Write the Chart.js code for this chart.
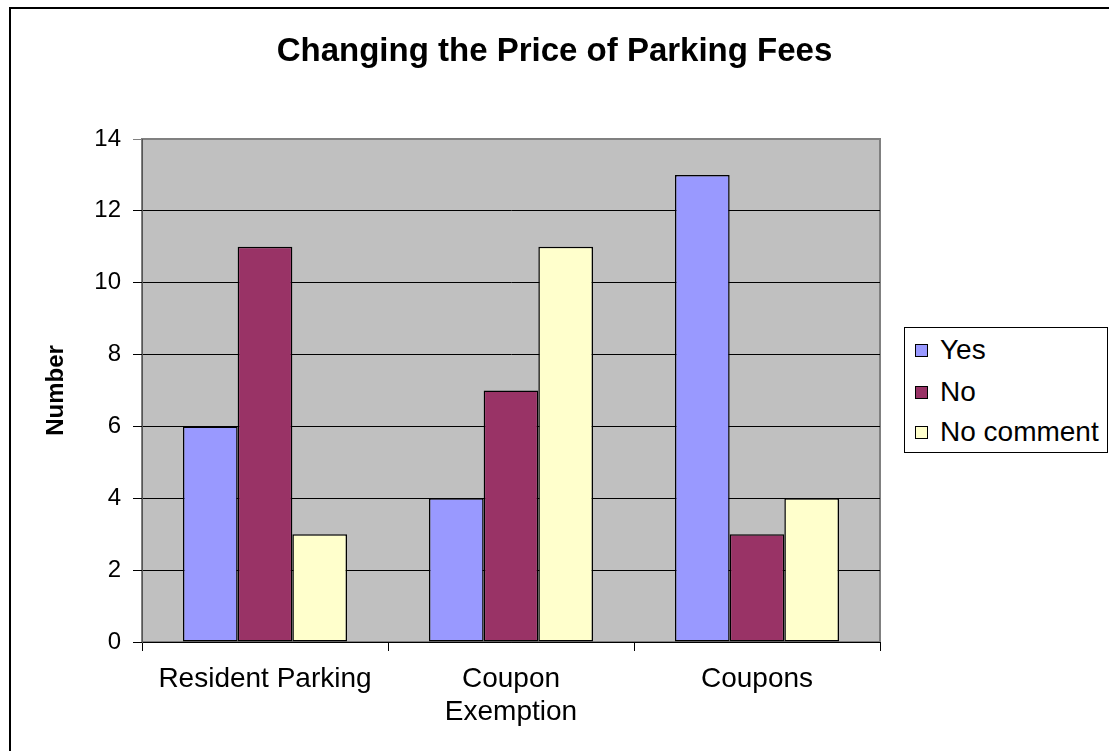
<!DOCTYPE html>
<html lang="en">
<head>
    <meta charset="UTF-8">
    <title>Changing the Price of Parking Fees</title>
    <script src="https://cdn.jsdelivr.net/npm/chart.js"></script>
    <style>
        body {
            margin: 0;
            overflow: hidden;
            background: #fff;
            font-family: 'Liberation Sans', Arial, sans-serif;
        }
        #wrap {
            position: relative;
            width: 1109px;
            height: 751px;
            overflow: hidden;
        }
        #frame {
            position: absolute;
            left: 9px;
            top: 7px;
            width: 1200px;
            height: 800px;
            border: 2px solid #000;
            box-sizing: border-box;
            pointer-events: none;
        }
        canvas {
            position: absolute;
            left: 0;
            top: 0;
        }
        #legend {
            position: absolute;
            left: 904px;
            top: 327px;
            width: 204px;
            height: 126px;
            border: 1px solid #000;
            box-sizing: border-box;
            background: #fff;
        }
        .item {
            position: absolute;
            left: 10px;
            height: 30px;
            display: flex;
            align-items: center;
            font-size: 28px;
            color: #000;
            white-space: nowrap;
        }
        .swatch {
            width: 11px;
            height: 11px;
            border: 1.5px solid #000;
            margin-right: 12px;
            flex: none;
        }
    </style>
</head>
<body>
<div id="wrap">
    <canvas id="parkingChart" width="1109" height="751"></canvas>
    <div id="legend"></div>
    <div id="frame"></div>
</div>
<script>
    // chart data
    const categories = ['Resident Parking', ['Coupon', 'Exemption'], 'Coupons'];
    const seriesNames = ['Yes', 'No', 'No comment'];
    const yesValues = [6, 4, 13];
    const noValues = [11, 7, 3];
    const noCommentValues = [3, 11, 4];
    const seriesColors = ['#9999ff', '#993366', '#ffffcc'];
    const yMin = 0, yMax = 14, yStep = 2;

    Chart.defaults.font.family = "'Liberation Sans', Arial, sans-serif";
    Chart.defaults.color = '#000';

    // grey plot area like the old spreadsheet charts
    const plotBackground = {
        id: 'plotBackground',
        beforeDraw(chart) {
            const { ctx, chartArea: a } = chart;
            ctx.save();
            ctx.fillStyle = '#c0c0c0';
            ctx.fillRect(a.left, a.top, a.right - a.left, a.bottom - a.top);
            ctx.strokeStyle = '#808080';
            ctx.lineWidth = 2;
            ctx.strokeRect(a.left, a.top, a.right - a.left, a.bottom - a.top);
            ctx.restore();
        }
    };

    const values = [yesValues, noValues, noCommentValues];
    const datasets = seriesNames.map((name, i) => ({
        label: name,
        data: values[i],
        backgroundColor: seriesColors[i],
        borderColor: '#000',
        borderWidth: 1.5,
        borderSkipped: false,
        categoryPercentage: 0.667,
        barPercentage: 1,
        yAxisID: 'y'
    }));

    new Chart(document.getElementById('parkingChart'), {
        type: 'bar',
        data: { labels: categories, datasets: datasets },
        options: {
            responsive: false,
            animation: false,
            layout: { padding: 0 },
            plugins: {
                legend: { display: false },
                tooltip: { enabled: false },
                title: {
                    display: true,
                    text: 'Changing the Price of Parking Fees',
                    color: '#000',
                    font: { size: 33, weight: 'bold' },
                    padding: { top: 32, bottom: 67.4 }
                }
            },
            scales: {
                x: {
                    afterFit: s => { s.height = 109; },
                    grid: {
                        drawOnChartArea: false,
                        drawTicks: true,
                        tickLength: 9,
                        color: '#000',
                        offset: true
                    },
                    border: { color: '#000', width: 1 },
                    ticks: {
                        color: '#000',
                        font: { size: 28 },
                        padding: 11,
                        maxRotation: 0,
                        autoSkip: false
                    }
                },
                y: {
                    min: yMin,
                    max: yMax,
                    afterFit: s => { s.width = 142; },
                    title: {
                        display: true,
                        text: 'Number',
                        color: '#000',
                        font: { size: 24, weight: 'bold' },
                        padding: { top: 42, bottom: 0 }
                    },
                    grid: {
                        color: c => (c.tick && c.tick.value === yMax) ? '#808080' : '#000',
                        lineWidth: 1,
                        tickLength: 9
                    },
                    border: { color: '#555', width: 1 },
                    ticks: {
                        stepSize: yStep,
                        color: '#000',
                        font: { size: 24 },
                        padding: 12
                    }
                },
                // empty axis that keeps room for the legend box on the right
                legendSpace: {
                    type: 'linear',
                    position: 'right',
                    display: true,
                    afterFit: s => { s.width = 229; },
                    grid: { display: false },
                    border: { display: false },
                    ticks: { display: false }
                }
            }
        },
        plugins: [plotBackground]
    });

    // legend box
    const legend = document.getElementById('legend');
    const rowCenters = [22, 64, 104];
    seriesNames.forEach((name, i) => {
        const item = document.createElement('div');
        item.className = 'item';
        item.style.top = (rowCenters[i] - 15) + 'px';
        const sw = document.createElement('span');
        sw.className = 'swatch';
        sw.style.background = seriesColors[i];
        item.appendChild(sw);
        item.appendChild(document.createTextNode(name));
        legend.appendChild(item);
    });
</script>
</body>
</html>
